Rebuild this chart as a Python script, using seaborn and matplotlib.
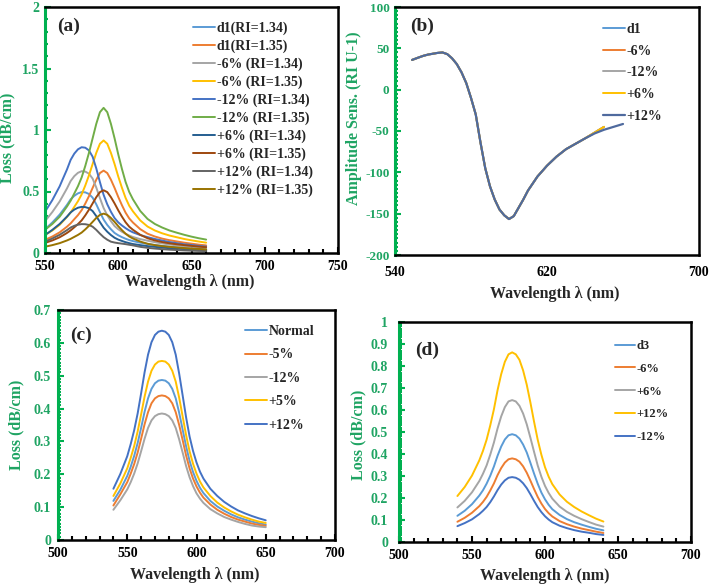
"""
Four-panel loss / amplitude sensitivity spectra (recreated figure)
"""

import pandas as pd
import matplotlib.pyplot as plt
from matplotlib.ticker import MultipleLocator, FixedLocator
import seaborn as sns

# ---------------- data ----------------
# (a) loss spectra, RI = 1.34 / 1.35
wl_a = [550, 555, 560, 562.5, 565, 567.5, 570, 572.5, 575, 577.5, 580, 582.5, 585, 587.5,
        590, 592.5, 595, 597.5, 600, 602.5, 605, 607.5, 610, 615, 620, 625, 630, 635, 640,
        645, 650, 655, 660]
a_m12_134 = [0.335, 0.430, 0.542, 0.611, 0.679, 0.757, 0.808, 0.843, 0.860, 0.856, 0.834, 0.783,
             0.688, 0.576, 0.473, 0.396, 0.335, 0.284, 0.249, 0.224, 0.202, 0.183, 0.168, 0.146,
             0.129, 0.114, 0.101, 0.089, 0.080, 0.071, 0.065, 0.058, 0.052]
a_m6_134 = [0.259, 0.333, 0.419, 0.472, 0.525, 0.585, 0.625, 0.652, 0.665, 0.662, 0.645, 0.605,
            0.532, 0.446, 0.366, 0.306, 0.259, 0.219, 0.193, 0.173, 0.156, 0.142, 0.130, 0.113,
            0.100, 0.088, 0.078, 0.069, 0.062, 0.055, 0.050, 0.045, 0.040]
a_d1_134 = [0.193, 0.248, 0.312, 0.351, 0.391, 0.436, 0.465, 0.485, 0.495, 0.493, 0.480, 0.450,
            0.396, 0.332, 0.272, 0.228, 0.193, 0.163, 0.144, 0.129, 0.116, 0.105, 0.097, 0.084,
            0.074, 0.065, 0.058, 0.051, 0.046, 0.041, 0.037, 0.033, 0.030]
a_p6_134 = [0.146, 0.188, 0.236, 0.266, 0.296, 0.330, 0.353, 0.368, 0.375, 0.373, 0.364, 0.341,
            0.300, 0.251, 0.206, 0.173, 0.146, 0.124, 0.109, 0.098, 0.088, 0.080, 0.073, 0.064,
            0.056, 0.050, 0.044, 0.039, 0.035, 0.031, 0.028, 0.025, 0.023]
a_p12_134 = [0.092, 0.118, 0.148, 0.167, 0.186, 0.207, 0.221, 0.230, 0.235, 0.234, 0.228, 0.214,
             0.188, 0.157, 0.129, 0.108, 0.092, 0.085, 0.080, 0.076, 0.072, 0.067, 0.062, 0.050,
             0.042, 0.036, 0.031, 0.027, 0.024, 0.021, 0.019, 0.017, 0.016]
a_m12_135 = [0.189, 0.236, 0.295, 0.336, 0.378, 0.425, 0.484, 0.543, 0.614, 0.708, 0.814, 0.932,
             1.050, 1.145, 1.180, 1.145, 1.050, 0.932, 0.802, 0.684, 0.578, 0.496, 0.437, 0.342,
             0.277, 0.236, 0.207, 0.183, 0.165, 0.148, 0.133, 0.120, 0.109]
a_m6_135 = [0.146, 0.183, 0.229, 0.261, 0.293, 0.329, 0.375, 0.421, 0.476, 0.549, 0.631, 0.723,
            0.814, 0.888, 0.915, 0.888, 0.814, 0.723, 0.622, 0.531, 0.448, 0.384, 0.339, 0.265,
            0.215, 0.183, 0.160, 0.142, 0.128, 0.114, 0.103, 0.093, 0.084]
a_d1_135 = [0.107, 0.134, 0.168, 0.191, 0.214, 0.241, 0.275, 0.308, 0.348, 0.402, 0.462, 0.529,
            0.596, 0.650, 0.670, 0.650, 0.596, 0.529, 0.456, 0.389, 0.328, 0.281, 0.248, 0.194,
            0.157, 0.134, 0.117, 0.104, 0.094, 0.084, 0.076, 0.068, 0.062]
a_p6_135 = [0.082, 0.102, 0.128, 0.145, 0.163, 0.184, 0.209, 0.235, 0.265, 0.306, 0.352, 0.403,
            0.454, 0.495, 0.510, 0.495, 0.454, 0.403, 0.347, 0.296, 0.250, 0.214, 0.189, 0.148,
            0.120, 0.102, 0.089, 0.079, 0.071, 0.064, 0.058, 0.052, 0.047]
a_p12_135 = [0.051, 0.064, 0.080, 0.091, 0.102, 0.115, 0.131, 0.147, 0.166, 0.192, 0.221, 0.253,
             0.285, 0.310, 0.320, 0.310, 0.285, 0.253, 0.218, 0.186, 0.157, 0.134, 0.118, 0.093,
             0.075, 0.064, 0.056, 0.050, 0.045, 0.040, 0.036, 0.033, 0.029]
labels_a = ['d1(RI=1.34)', 'd1(RI=1.35)', '-6% (RI=1.34)', '-6% (RI=1.35)',
            '-12% (RI=1.34)', '-12% (RI=1.35)', '+6% (RI=1.34)', '+6% (RI=1.35)',
            '+12% (RI=1.34)', '+12% (RI=1.35)']

# (b) amplitude sensitivity (all curves overlap, +12% runs a bit further)
wl_b = [549, 552.5, 555, 557.5, 560, 562.5, 565, 567.5, 570, 572.5, 575, 577.5, 580, 582.5,
        585, 587.5, 590, 592.5, 595, 597.5, 600, 602.5, 605, 607.5, 610, 615, 620, 625, 630,
        635, 640, 645, 650]
b_sens = [36, 39, 41, 42.5, 43.5, 44.5, 45, 43, 38, 31, 21, 8, -10, -30,
          -64, -95, -117, -133, -145, -152, -156.5, -153, -143, -133, -122, -105, -92, -81, -72,
          -65.5, -59, -52, -45]
wl_b_ext = [549, 552.5, 555, 557.5, 560, 562.5, 565, 567.5, 570, 572.5, 575, 577.5, 580, 582.5,
            585, 587.5, 590, 592.5, 595, 597.5, 600, 602.5, 605, 607.5, 610, 615, 620, 625, 630,
            635, 640, 645, 650, 655, 660]
b_sens_ext = [36, 39, 41, 42.5, 43.5, 44.5, 45, 43, 38, 31, 21, 8, -10, -30,
              -64, -95, -117, -133, -145, -152, -156.5, -153, -143, -133, -122, -105, -92, -81, -72,
              -65.5, -59, -53, -48.5, -45, -41.5]
labels_b = ['d1', '-6%', '-12%', '+6%', '+12%']

# (c) loss spectra, core size variation
wl_c = [540, 545, 550, 552.5, 555, 557.5, 560, 562.5, 565, 567.5, 570, 572.5, 575, 577.5,
        580, 582.5, 585, 587.5, 590, 592.5, 595, 597.5, 600, 602.5, 605, 610, 615, 620, 625,
        630, 635, 640, 645, 650]
c_normal = [0.119, 0.153, 0.195, 0.223, 0.256, 0.295, 0.341, 0.390, 0.431, 0.460, 0.477, 0.485,
            0.487, 0.485, 0.477, 0.460, 0.431, 0.387, 0.336, 0.285, 0.241, 0.207, 0.180, 0.159,
            0.143, 0.119, 0.102, 0.089, 0.078, 0.069, 0.062, 0.056, 0.051, 0.047]
c_m5 = [0.105, 0.139, 0.176, 0.202, 0.231, 0.266, 0.308, 0.352, 0.389, 0.416, 0.431, 0.438,
        0.440, 0.438, 0.431, 0.416, 0.389, 0.350, 0.304, 0.257, 0.218, 0.187, 0.163, 0.144,
        0.129, 0.108, 0.092, 0.080, 0.070, 0.062, 0.056, 0.050, 0.046, 0.043]
c_m12 = [0.092, 0.121, 0.154, 0.176, 0.202, 0.233, 0.270, 0.308, 0.341, 0.364, 0.377, 0.383,
         0.385, 0.383, 0.377, 0.364, 0.341, 0.306, 0.266, 0.225, 0.191, 0.164, 0.142, 0.126,
         0.113, 0.094, 0.081, 0.070, 0.062, 0.055, 0.049, 0.044, 0.041, 0.039]
c_p5 = [0.134, 0.172, 0.218, 0.250, 0.286, 0.330, 0.382, 0.436, 0.482, 0.515, 0.534, 0.543,
        0.545, 0.543, 0.534, 0.515, 0.482, 0.433, 0.376, 0.319, 0.270, 0.232, 0.202, 0.178,
        0.160, 0.134, 0.114, 0.099, 0.087, 0.077, 0.069, 0.062, 0.056, 0.052]
c_p12 = [0.156, 0.201, 0.255, 0.292, 0.334, 0.385, 0.446, 0.510, 0.564, 0.602, 0.624, 0.634,
         0.637, 0.634, 0.624, 0.602, 0.564, 0.506, 0.440, 0.373, 0.315, 0.271, 0.236, 0.208,
         0.187, 0.156, 0.134, 0.116, 0.102, 0.090, 0.081, 0.073, 0.066, 0.060]
labels_c = ['Normal', '-5%', '-12%', '+5%', '+12%']

# (d) loss spectra, d3 variation
wl_d = [540, 545, 550, 555, 557.5, 560, 562.5, 565, 567.5, 570, 572.5, 575, 577.5, 580,
        582.5, 585, 587.5, 590, 592.5, 595, 597.5, 600, 602.5, 605, 610, 615, 620, 625, 630,
        635, 640]
d_d3 = [0.119, 0.142, 0.172, 0.211, 0.235, 0.265, 0.301, 0.343, 0.392, 0.434, 0.466, 0.485,
        0.490, 0.485, 0.470, 0.443, 0.407, 0.360, 0.311, 0.265, 0.225, 0.194, 0.169, 0.149,
        0.123, 0.104, 0.090, 0.079, 0.069, 0.060, 0.053]
d_m6 = [0.092, 0.110, 0.133, 0.163, 0.182, 0.205, 0.234, 0.266, 0.304, 0.336, 0.361, 0.376,
        0.380, 0.376, 0.365, 0.344, 0.315, 0.279, 0.241, 0.205, 0.175, 0.150, 0.131, 0.116,
        0.095, 0.081, 0.070, 0.061, 0.054, 0.047, 0.041]
d_p6 = [0.157, 0.187, 0.226, 0.277, 0.310, 0.348, 0.397, 0.452, 0.516, 0.571, 0.613, 0.639,
        0.645, 0.639, 0.619, 0.584, 0.535, 0.474, 0.410, 0.348, 0.297, 0.255, 0.223, 0.197,
        0.161, 0.137, 0.119, 0.104, 0.091, 0.079, 0.070]
d_p12 = [0.209, 0.250, 0.302, 0.371, 0.414, 0.465, 0.530, 0.603, 0.690, 0.763, 0.819, 0.853,
         0.862, 0.853, 0.828, 0.780, 0.715, 0.634, 0.547, 0.465, 0.397, 0.340, 0.297, 0.263,
         0.216, 0.183, 0.159, 0.139, 0.122, 0.106, 0.093]
d_m12 = [0.072, 0.086, 0.103, 0.127, 0.142, 0.159, 0.181, 0.207, 0.236, 0.261, 0.280, 0.292,
         0.295, 0.292, 0.283, 0.267, 0.245, 0.217, 0.187, 0.159, 0.136, 0.117, 0.102, 0.090,
         0.074, 0.063, 0.054, 0.047, 0.042, 0.036, 0.032]
labels_d = ['d3', '-6%', '+6%', '+12%', '-12%']

# ---------------- style ----------------
sns.set_style('white')
plt.rcParams['font.family'] = ['Liberation Serif', 'DejaVu Serif']
plt.rcParams['font.weight'] = 'bold'
plt.rcParams['axes.labelweight'] = 'bold'
plt.rcParams['axes.unicode_minus'] = False

GREEN_TXT = '#1FA463'
GREEN_AX = '#00B050'
BLUE, ORANGE, GRAY, YELLOW = '#5B9BD5', '#ED7D31', '#A5A5A5', '#FFC000'
BLUE2, GREEN = '#4472C4', '#70AD47'
DBLUE, DORANGE, DGRAY, DYELLOW = '#255E91', '#9E480E', '#636363', '#997300'

W, H = 709, 588
fig = plt.figure(figsize=(W / 100, H / 100), dpi=100)


def box(l, r, t, b):
    return [l / W, (H - b) / H, (r - l) / W, (b - t) / H]


def style_axes(ax, xlim, xmaj, xmin_step, ylim, ymaj, ymin_step, tick_pad, ysize=10):
    ax.set_xlim(*xlim)
    ax.set_ylim(*ylim)
    ax.xaxis.set_major_locator(MultipleLocator(xmaj))
    if xmin_step:
        ax.xaxis.set_minor_locator(MultipleLocator(xmin_step))
    ax.yaxis.set_major_locator(MultipleLocator(ymaj))
    ax.yaxis.set_minor_locator(MultipleLocator(ymin_step))
    for s in ['top', 'right', 'bottom']:
        ax.spines[s].set_color('black')
        ax.spines[s].set_linewidth(1.8)
    ax.spines['left'].set_color(GREEN_AX)
    ax.spines['left'].set_linewidth(2.2)
    ax.tick_params(axis='y', which='major', direction='in', length=4, width=1.5,
                   color=GREEN_AX, labelcolor=GREEN_TXT, labelsize=ysize, pad=tick_pad, left=True)
    ax.tick_params(axis='y', which='minor', direction='in', length=2.5, width=1.5,
                   color=GREEN_AX, left=True)
    ax.tick_params(axis='x', which='major', direction='in', length=4, width=1.5,
                   color='black', labelcolor='black', labelsize=10, pad=5, bottom=True)
    ax.tick_params(axis='x', which='minor', direction='in', length=3, width=1.5,
                   color='black', bottom=True)
    ax.grid(False)


def draw(ax, x, series, labels, colors):
    for y, lab, c in zip(series, labels, colors):
        df = pd.DataFrame({'wl': x, 'v': y})
        sns.lineplot(data=df, x='wl', y='v', ax=ax, color=c, linewidth=1.4, label=lab)


def legend(ax, x, y, fs, spacing):
    ax.legend(loc='upper left', bbox_to_anchor=(x, y), frameon=False, fontsize=fs,
              handlelength=1.6, handletextpad=0.1, borderaxespad=0, borderpad=0,
              labelspacing=spacing)


xlab = 'Wavelength λ (nm)'

# (a)
ax_a = fig.add_axes(box(45, 338, 7, 253))
draw(ax_a, wl_a,
     [a_d1_134, a_d1_135, a_m6_134, a_m6_135, a_m12_134, a_m12_135,
      a_p6_134, a_p6_135, a_p12_134, a_p12_135],
     labels_a,
     [BLUE, ORANGE, GRAY, YELLOW, BLUE2, GREEN, DBLUE, DORANGE, DGRAY, DYELLOW])
style_axes(ax_a, (550, 750), 50, 10, (0, 2), 0.5, 0.1, 4)
legend(ax_a, 0.505, 0.94, 10, 0.32)
ax_a.set_xlabel(xlab, fontsize=11.5)
ax_a.set_ylabel('Loss (dB/cm)', fontsize=11.5, color=GREEN_TXT)
ax_a.xaxis.set_label_coords(0.495, -0.085)
ax_a.yaxis.set_label_coords(-0.10, 0.47)
ax_a.text(0.04, 0.92, '(a)', transform=ax_a.transAxes, fontsize=14, va='center')

# (b)
ax_b = fig.add_axes(box(395, 699, 7, 255))
for lab, c in zip(labels_b[:4], [BLUE, ORANGE, GRAY, YELLOW]):
    sns.lineplot(x=wl_b, y=b_sens, ax=ax_b, color=c, linewidth=1.4, label=lab)
sns.lineplot(x=wl_b_ext, y=b_sens_ext, ax=ax_b, color='#4F6A9E', linewidth=1.6, label=labels_b[4])
style_axes(ax_b, (540, 700), 80, None, (-200, 100), 50, 5, 4, ysize=9.5)
ax_b.xaxis.set_major_locator(FixedLocator([540, 620, 700]))
ax_b.tick_params(axis='x', which='both', length=0, pad=8)
legend(ax_b, 0.684, 0.935, 10, 0.62)
ax_b.set_xlabel(xlab, fontsize=11.5)
ax_b.set_ylabel('Amplitude Sens. (RI U-1)', fontsize=11.5, color=GREEN_TXT)
ax_b.xaxis.set_label_coords(0.526, -0.125)
ax_b.yaxis.set_label_coords(-0.108, 0.55)
ax_b.text(0.05, 0.92, '(b)', transform=ax_b.transAxes, fontsize=14, va='center')

# (c)
ax_c = fig.add_axes(box(58, 335, 310, 540))
draw(ax_c, wl_c, [c_normal, c_m5, c_m12, c_p5, c_p12], labels_c,
     [BLUE, ORANGE, GRAY, YELLOW, BLUE2])
style_axes(ax_c, (500, 700), 50, 10, (0, 0.7), 0.1, 0.01, 5)
legend(ax_c, 0.675, 0.935, 10, 0.75)
ax_c.set_xlabel(xlab, fontsize=11.5)
ax_c.set_ylabel('Loss (dB/cm)', fontsize=11.5, color=GREEN_TXT)
ax_c.xaxis.set_label_coords(0.495, -0.117)
ax_c.yaxis.set_label_coords(-0.12, 0.5)
ax_c.text(0.043, 0.89, '(c)', transform=ax_c.transAxes, fontsize=14, va='center')

# (d)
ax_d = fig.add_axes(box(399, 691, 322, 542))
draw(ax_d, wl_d, [d_d3, d_m6, d_p6, d_p12, d_m12], labels_d,
     [BLUE, ORANGE, GRAY, YELLOW, BLUE2])
style_axes(ax_d, (500, 700), 50, 10, (0, 1), 0.1, 0.01, 8)
legend(ax_d, 0.740, 0.918, 9, 0.86)
ax_d.set_xlabel(xlab, fontsize=11.5)
ax_d.set_ylabel('Loss (dB/cm)', fontsize=11.5, color=GREEN_TXT)
ax_d.xaxis.set_label_coords(0.5, -0.118)
ax_d.yaxis.set_label_coords(-0.11, 0.486)
ax_d.text(0.055, 0.87, '(d)', transform=ax_d.transAxes, fontsize=14, va='center')

# plain tick formatting like the original (0, 0.5, 1 ...)
for ax in [ax_a, ax_c, ax_d]:
    ax.yaxis.set_major_formatter(plt.FuncFormatter(lambda v, p: f'{v:g}'))

fig.savefig('out.png', dpi=100)
